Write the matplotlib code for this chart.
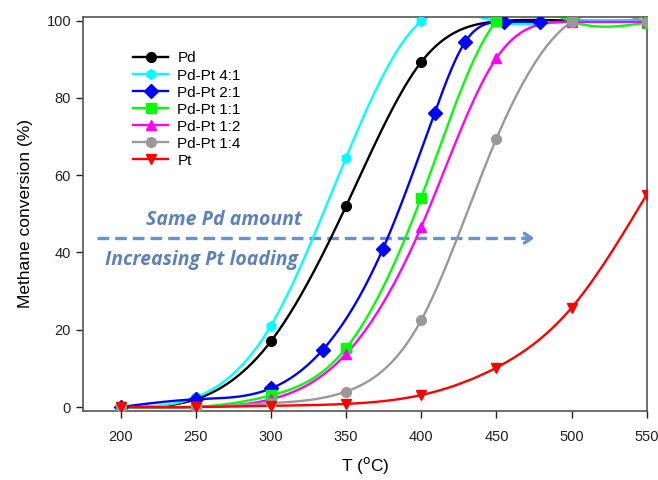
import numpy as np
import matplotlib
matplotlib.use('Agg')
import matplotlib.pyplot as plt

plt.rcParams['font.family'] = ['Liberation Sans', 'DejaVu Sans']

# values
T_std = [200, 250, 300, 350, 400, 450, 500, 550]
conv_pd = [0, 2, 17, 52, 89.3, 99.8, 100, 100]
conv_41 = [0, 2.5, 21, 64.5, 99.8, 99.8, 99.8, 99.8]
T_21 = [200, 250, 300, 334.5, 374.6, 409, 429.2, 454.7, 479]
conv_21 = [0, 2, 4.8, 14.8, 41, 76.2, 94.5, 99.7, 99.7]
conv_11 = [0, 0, 3, 15.2, 54.2, 99.8, 99.8, 99.5]
conv_12 = [0, 0, 2, 13.7, 46.6, 90.3, 99.7, 99.7]
conv_14 = [0, 0, 1, 4, 22.5, 69.5, 99.7, 99.7]
conv_pt = [0, 0, 0.3, 0.8, 3.1, 10.2, 25.7, 55]

series = [
    ('Pd', T_std, conv_pd, 'black', 'o'),
    ('Pd-Pt 4:1', T_std, conv_41, 'cyan', 'h'),
    ('Pd-Pt 2:1', T_21, conv_21, 'blue', 'D'),
    ('Pd-Pt 1:1', T_std, conv_11, '#00ff00', 's'),
    ('Pd-Pt 1:2', T_std, conv_12, 'magenta', '^'),
    ('Pd-Pt 1:4', T_std, conv_14, '#999999', 'o'),
    ('Pt', T_std, conv_pt, 'red', 'v'),
]


def natural_spline(x, y, num=300):
    # plain natural cubic spline, only used for the smooth connecting line
    x = np.asarray(x, float)
    y = np.asarray(y, float)
    n = len(x)
    h = np.diff(x)
    A = np.zeros((n, n))
    b = np.zeros(n)
    A[0, 0] = 1
    A[-1, -1] = 1
    for i in range(1, n - 1):
        A[i, i - 1] = h[i - 1]
        A[i, i] = 2 * (h[i - 1] + h[i])
        A[i, i + 1] = h[i]
        b[i] = 6 * ((y[i + 1] - y[i]) / h[i] - (y[i] - y[i - 1]) / h[i - 1])
    M = np.linalg.solve(A, b)
    xs = np.linspace(x[0], x[-1], num)
    k = np.clip(np.searchsorted(x, xs) - 1, 0, n - 2)
    t1 = x[k + 1] - xs
    t0 = xs - x[k]
    hk = h[k]
    ys = (M[k] * t1 ** 3 + M[k + 1] * t0 ** 3) / (6 * hk) \
        + (y[k] / hk - M[k] * hk / 6) * t1 + (y[k + 1] / hk - M[k + 1] * hk / 6) * t0
    return xs, ys


fig = plt.figure(figsize=(6.58, 4.8), dpi=100)
ax = fig.add_axes([0.126, 0.144, 0.857, 0.821])

for label, tx, cy, color, marker in series:
    xs, ys = natural_spline(tx, cy)
    ax.plot(xs, ys, color=color, lw=1.7, zorder=2)
    ax.plot(tx, cy, linestyle='none', marker=marker, color=color, ms=7, zorder=3)
    ax.plot([], [], color=color, lw=1.7, marker=marker, ms=7, label=label)

ax.set_xlim(175, 550)
ax.set_ylim(-1, 101)
ax.set_xticks([200, 250, 300, 350, 400, 450, 500, 550])
ax.set_yticks([0, 20, 40, 60, 80, 100])
ax.tick_params(axis='both', labelsize=10.5, direction='out', length=5, width=1, colors='#222222')
ax.tick_params(axis='x', pad=9)
for s in ax.spines.values():
    s.set_color('#555555')
    s.set_linewidth(1.2)

ax.set_xlabel('T ($^{\\mathrm{o}}$C)', fontsize=12.5, labelpad=8)
ax.set_ylabel('Methane conversion (%)', fontsize=12.5, labelpad=10)

leg = ax.legend(loc='upper left', bbox_to_anchor=(0.089, 0.912), frameon=False, fontsize=11,
                borderpad=0, borderaxespad=0, handlelength=2.3, handletextpad=0.6,
                labelspacing=0.2)

# annotation: dashed arrow with text
arrow_y = 43.7
ax.plot([184.5, 470], [arrow_y, arrow_y], color='#6a93c9', lw=2.4, ls=(0, (3.5, 1.8)), zorder=1)
ax.annotate('', xy=(477, arrow_y), xytext=(466, arrow_y),
            arrowprops=dict(arrowstyle='->, head_length=0.5, head_width=0.35', color='#6a93c9', lw=2.4))
ax.text(269, 48.5, 'Same Pd amount', color='#5b82bb', fontsize=14, fontweight='bold', style='italic',
        family='Open Sans', ha='center', va='center')
ax.text(254, 38.1, 'Increasing Pt loading', color='#5b82bb', fontsize=14, fontweight='bold', style='italic',
        family='Open Sans', ha='center', va='center')

fig.savefig('out.png', dpi=100)
